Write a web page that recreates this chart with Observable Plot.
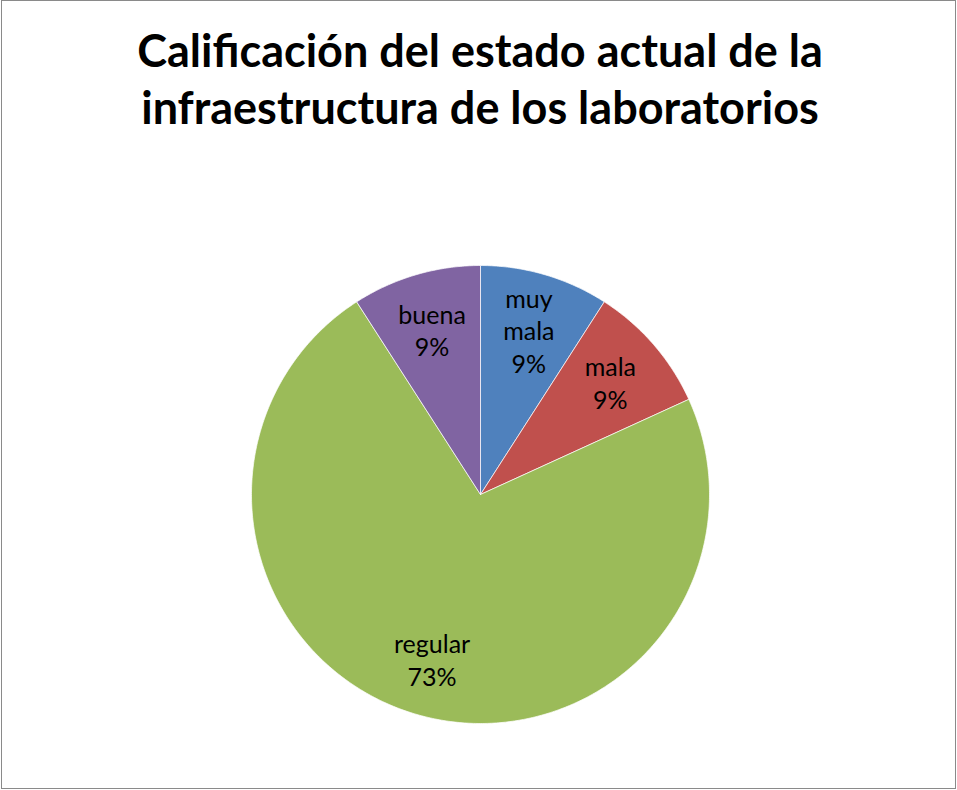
<!DOCTYPE html>
<html>
<head>
<meta charset="utf-8">
<script src="https://cdn.jsdelivr.net/npm/d3@7"></script>
<script src="https://cdn.jsdelivr.net/npm/@observablehq/plot@0.6"></script>
<style>
  html, body { margin: 0; padding: 0; background: #fff; }
  #wrap { position: relative; width: 957px; height: 790px; overflow: hidden; background: #fff; }
  #frame { position: absolute; left: 1px; top: 0; width: 955px; height: 789px; box-sizing: border-box; border: 1px solid #8a8a8a; pointer-events: none; z-index: 3; }
  #title { position: absolute; left: 0; top: 22px; width: 960px; text-align: center; font-family: Lato, "Open Sans", sans-serif; font-weight: 700; font-size: 45px; line-height: 57px; color: #000; z-index: 2; }
  #chart { position: absolute; left: 0; top: 0; z-index: 1; }
</style>
</head>
<body>
<div id="wrap">
  <div id="title">Calificación del estado actual de la<br>infraestructura de los laboratorios</div>
  <div id="chart"></div>
  <div id="frame"></div>
</div>
<script>
const categories = ["muy mala", "mala", "regular", "buena"];
const counts = [1, 1, 8, 1];
const colors = ["#4F81BD", "#C0504D", "#9BBB59", "#8064A2"];

const W = 957, H = 790, R = 229, CX = 480, CY = 494;

const data = categories.map((c, i) => ({cat: c, value: counts[i]}));
const total = d3.sum(counts);
const arcs = d3.pie().sort(null).value(d => d.value)(data);

// polygon outlines of each slice in unit-circle coordinates
const poly = [];
for (const a of arcs) {
  poly.push({cat: a.data.cat, x: 0, y: 0});
  const n = Math.max(8, Math.ceil((a.endAngle - a.startAngle) / 0.01));
  for (let k = 0; k <= n; k++) {
    const t = a.startAngle + (a.endAngle - a.startAngle) * k / n;
    poly.push({cat: a.data.cat, x: Math.sin(t), y: Math.cos(t)});
  }
  poly.push({cat: a.data.cat, x: 0, y: 0});
}

const labelR = 0.75;
const labels = arcs.map(a => {
  const m = (a.startAngle + a.endAngle) / 2;
  return {
    cat: a.data.cat,
    x: labelR * Math.sin(m),
    y: labelR * Math.cos(m),
    text: a.data.cat.replace(" ", "\n") + "\n" + Math.round(a.data.value / total * 100) + "%"
  };
});

const chart = Plot.plot({
  width: W,
  height: H,
  margin: 0,
  x: {domain: [-CX / R, (W - CX) / R], axis: null},
  y: {domain: [-(H - CY) / R, CY / R], axis: null},
  color: {domain: categories, range: colors},
  style: {background: "transparent", overflow: "visible"},
  marks: [
    Plot.line(poly, {x: "x", y: "y", z: "cat", fill: "cat", stroke: "#ffffff", strokeWidth: 1, strokeOpacity: 0.7, curve: "linear"}),
    Plot.text(labels, {x: "x", y: "y", text: "text", fill: "#000", fontSize: 25, lineHeight: 1.3, fontFamily: "Lato, 'Open Sans', sans-serif", textAnchor: "middle"})
  ]
});
document.getElementById("chart").appendChild(chart);
</script>
</body>
</html>
